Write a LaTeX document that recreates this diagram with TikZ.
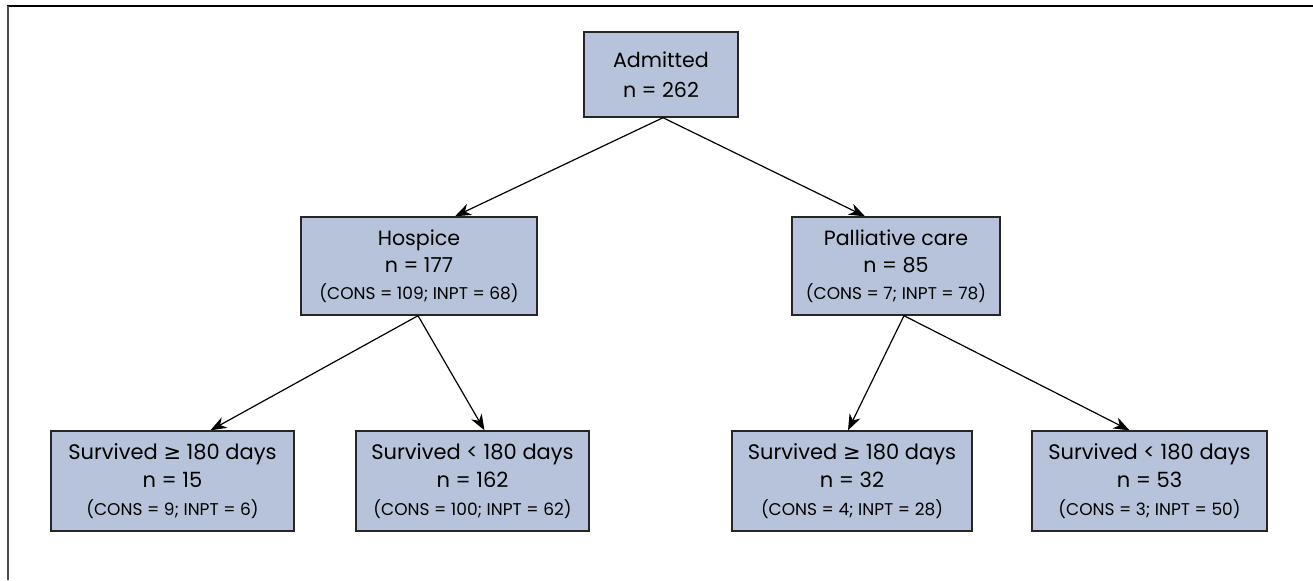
\documentclass[tikz,border=0pt]{standalone}
\usepackage{fontspec}
\setmainfont{Poppins}
\newfontfamily\symfont{DejaVu Sans}
\usetikzlibrary{arrows.meta}
\definecolor{boxfill}{RGB}{183,195,218}
\newcommand{\geqsym}{{\symfont\char"2265}}
\newcommand{\sm}[1]{{\fontsize{8.5}{9}\selectfont #1}}
\tikzset{
  box/.style={draw=black!85,line width=0.7pt,fill=boxfill,align=center,inner sep=0pt,
    font=\fontsize{10.3}{13.5}\selectfont},
  leaf/.style={box,minimum height=50pt,font=\fontsize{10.5}{13.8}\selectfont},
  arr/.style={-{Stealth[length=8pt,width=6pt,inset=2.5pt]},line width=0.6pt}
}
\begin{document}
\begin{tikzpicture}[x=0.5pt,y=-0.5pt]
  \useasboundingbox (0,0) rectangle (1313,580);
  \draw[line width=0.8pt] (7,6) -- (1313,6);
  \draw[black!70,line width=1pt] (8,6) -- (8,580);
  \node[box,minimum width=77pt,minimum height=42.5pt,font=\fontsize{10.3}{15}\selectfont] (adm) at (661,74.5) {Admitted\\n = 262};
  \node[box,minimum width=118pt,minimum height=49pt] (hosp) at (419,266) {Hospice\\n = 177\\\sm{(CONS = 109; INPT = 68)}};
  \node[box,minimum width=104pt,minimum height=49pt] (pall) at (896,266) {Palliative care\\n = 85\\\sm{(CONS = 7; INPT = 78)}};
  \node[leaf,minimum width=121.5pt] (hlong) at (172.5,481) {Survived \geqsym{} 180 days\\n = 15\\\sm{(CONS = 9; INPT = 6)}};
  \node[leaf,minimum width=116.5pt] (hshort) at (472.5,481) {Survived < 180 days\\n = 162\\\sm{(CONS = 100; INPT = 62)}};
  \node[leaf,minimum width=120pt] (plong) at (852,481) {Survived \geqsym{} 180 days\\n = 32\\\sm{(CONS = 4; INPT = 28)}};
  \node[leaf,minimum width=117.5pt] (pshort) at (1149.5,481) {Survived < 180 days\\n = 53\\\sm{(CONS = 3; INPT = 50)}};
  \draw[arr] ([xshift=1pt]adm.south) -- ([xshift=18pt]hosp.north);
  \draw[arr] ([xshift=1pt]adm.south) -- ([xshift=-15.5pt]pall.north);
  \draw[arr] ([xshift=-0.5pt]hosp.south) -- ([xshift=19pt]hlong.north);
  \draw[arr] ([xshift=-0.5pt]hosp.south) -- ([xshift=6pt]hshort.north);
  \draw[arr] ([xshift=4pt]pall.south) -- ([xshift=-2pt]plong.north);
  \draw[arr] ([xshift=4pt]pall.south) -- ([xshift=-10pt]pshort.north);
\end{tikzpicture}
\end{document}
